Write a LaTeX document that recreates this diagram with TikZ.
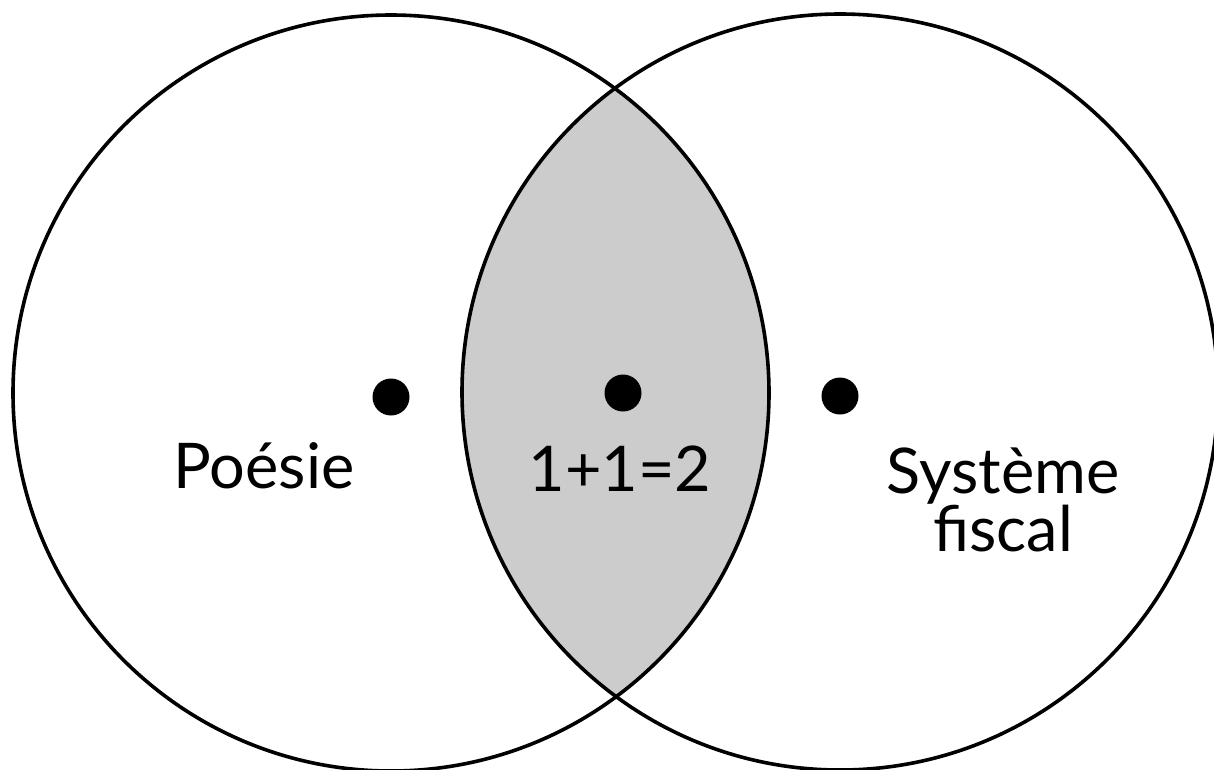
\documentclass[tikz,border=0pt]{standalone}
\usepackage{fontspec}
\setmainfont{Lato}
\begin{document}
\begin{tikzpicture}[x=1pt,y=-1pt,
  ring/.style={draw=black,line width=3.6pt},
  dotmark/.style={circle,fill=black,inner sep=0pt,minimum size=37pt},
  txt/.style={font=\fontsize{63}{58}\selectfont,align=center,inner sep=0pt}]
\useasboundingbox (0,0) rectangle (1214,769);
\clip (0,0) rectangle (1214,769);
\fill[white] (0,0) rectangle (1214,769);
\coordinate (L) at (391,393);
\coordinate (R) at (840,392);
\begin{scope}
  \clip (L) circle (378);
  \fill[black!20] (R) circle (378);
\end{scope}
\draw[ring] (L) circle (378);
\draw[ring] (R) circle (378);
\node[dotmark] (d1) at (391,397) {};
\node[dotmark] (d2) at (623,393) {};
\node[dotmark] (d3) at (840,396) {};
\node[txt,anchor=base] (t1) at (264,488) {Poésie};
\node[txt,anchor=base] (t2) at (620,491) {1+1=2};
\node[txt] (t3) at (1003,500) {Système\\fiscal};
\end{tikzpicture}
\end{document}
